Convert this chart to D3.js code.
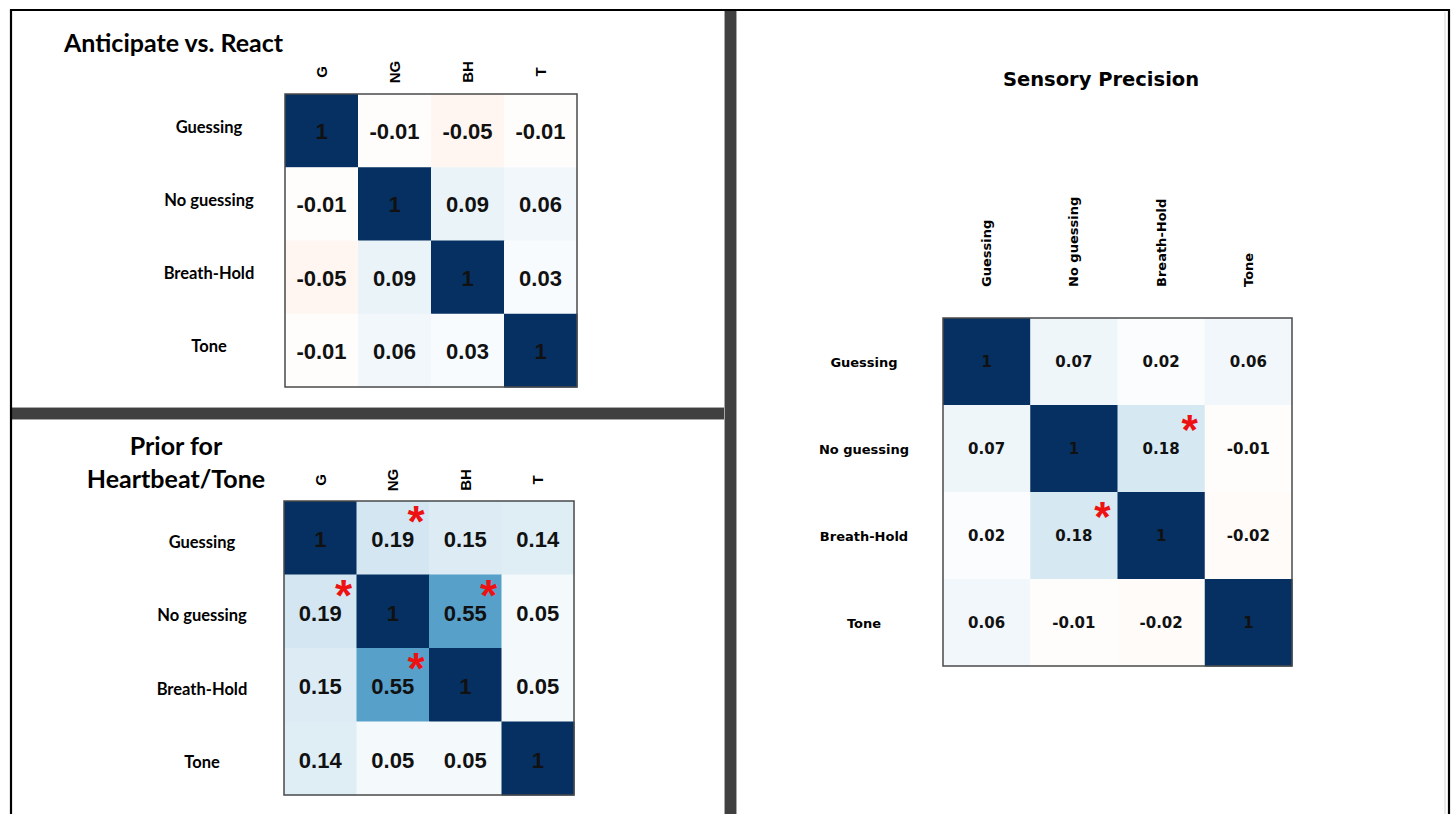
<!DOCTYPE html>
<html>
<head>
<meta charset="utf-8">
<script src="https://cdn.jsdelivr.net/npm/d3@7"></script>
<style>
  html, body { margin: 0; padding: 0; background: #ffffff; }
  svg { display: block; }
</style>
</head>
<body>
<svg id="chart" width="1453" height="814"></svg>
<script>
// Measures compared in every matrix
const measureNames = ["Guessing", "No guessing", "Breath-Hold", "Tone"];
const measureCodes = ["G", "NG", "BH", "T"];

// Correlations: anticipate vs. react
const anticipateValues = [
  [1, -0.01, -0.05, -0.01],
  [-0.01, 1, 0.09, 0.06],
  [-0.05, 0.09, 1, 0.03],
  [-0.01, 0.06, 0.03, 1]
];

// Correlations: prior for heartbeat/tone
const priorValues = [
  [1, 0.19, 0.15, 0.14],
  [0.19, 1, 0.55, 0.05],
  [0.15, 0.55, 1, 0.05],
  [0.14, 0.05, 0.05, 1]
];

// Correlations: sensory precision
const precisionValues = [
  [1, 0.07, 0.02, 0.06],
  [0.07, 1, 0.18, -0.01],
  [0.02, 0.18, 1, -0.02],
  [0.06, -0.01, -0.02, 1]
];

// Significant cells [row, column]
const anticipateSignificant = [];
const priorSignificant = [[0, 1], [1, 0], [1, 2], [2, 1]];
const precisionSignificant = [[1, 2], [2, 1]];

const svg = d3.select("#chart");
const W = 1453, H = 814;

// Red-white-blue diverging palette spread evenly over -1 … 1
const palette = ["#67001F", "#B2182B", "#D6604D", "#F4A582", "#FDDBC7", "#FFFFFF",
                 "#D1E5F0", "#92C5DE", "#4393C3", "#2166AC", "#053061"];
const color = d3.scaleLinear()
  .domain(palette.map((c, i) => -1 + i * 0.2))
  .range(palette)
  .interpolate(d3.interpolateRgb);
const fmt = v => (v === 1 ? "1" : v.toFixed(2));

// ---------- panel frame ----------
const frame = svg.append("g");
frame.append("rect").attr("x", 0).attr("y", 0).attr("width", W).attr("height", H).attr("fill", "#fff");
function bar(x, y, w, h) {
  frame.append("rect").attr("x", x - 1).attr("y", y - 1).attr("width", w + 2).attr("height", h + 2).attr("fill", "#a8a8a8");
  frame.append("rect").attr("x", x).attr("y", y).attr("width", w).attr("height", h).attr("fill", "#404040");
}
bar(12, 408, 713, 11);
bar(725, 10, 11, H - 10);
// outer black border (top, left, right)
frame.append("line").attr("x1", 10).attr("x2", 1450).attr("y1", 10).attr("y2", 10).attr("stroke", "#000").attr("stroke-width", 2.2);
frame.append("line").attr("x1", 11).attr("x2", 11).attr("y1", 9).attr("y2", H).attr("stroke", "#000").attr("stroke-width", 2.2);
frame.append("line").attr("x1", 1449).attr("x2", 1449).attr("y1", 9).attr("y2", H).attr("stroke", "#000").attr("stroke-width", 2.2);
frame.append("line").attr("x1", 1445).attr("x2", 1445).attr("y1", 12).attr("y2", H).attr("stroke", "#d4d4d4").attr("stroke-width", 1);

// ---------- generic correlation matrix ----------
function drawMatrix(opt) {
  const g = svg.append("g");
  const x = d3.scaleBand().domain(d3.range(4)).range([opt.x0, opt.x1]);
  const y = d3.scaleBand().domain(d3.range(4)).range([opt.y0, opt.y1]);

  const cells = [];
  opt.values.forEach((row, i) => row.forEach((v, j) => cells.push({ i, j, v })));

  g.selectAll("rect.cell").data(cells).join("rect")
    .attr("class", "cell")
    .attr("x", d => x(d.j))
    .attr("y", d => y(d.i))
    .attr("width", x.bandwidth() + 0.5)
    .attr("height", y.bandwidth() + 0.5)
    .attr("fill", d => color(d.v));

  g.append("rect")
    .attr("x", opt.x0).attr("y", opt.y0)
    .attr("width", opt.x1 - opt.x0).attr("height", opt.y1 - opt.y0)
    .attr("fill", "none").attr("stroke", "#4a4a4a").attr("stroke-width", 1.5);

  g.selectAll("text.val").data(cells).join("text")
    .attr("class", "val")
    .attr("x", d => x(d.j) + x.bandwidth() / 2)
    .attr("y", d => y(d.i) + y.bandwidth() / 2 + opt.valueShift)
    .attr("text-anchor", "middle")
    .attr("dominant-baseline", "central")
    .attr("font-family", opt.valueFont)
    .attr("font-weight", "bold")
    .attr("font-size", opt.valueSize)
    .attr("fill", "#111")
    .text(d => fmt(d.v));

  // significance markers
  g.selectAll("text.sig").data(opt.significant).join("text")
    .attr("class", "sig")
    .attr("x", d => x(d[1]) + x.bandwidth() - opt.starInset)
    .attr("y", d => y(d[0]) + opt.starDrop)
    .attr("text-anchor", "middle")
    .attr("font-family", "'Liberation Sans', Arial, sans-serif")
    .attr("font-weight", "bold")
    .attr("font-size", opt.starSize)
    .attr("fill", "#ee1111")
    .text("*");

  // row labels
  g.selectAll("text.row").data(opt.rowLabels).join("text")
    .attr("class", "row")
    .attr("x", opt.rowLabelX)
    .attr("y", (d, i) => y(i) + y.bandwidth() / 2 + opt.rowShift)
    .attr("text-anchor", "middle")
    .attr("dominant-baseline", "central")
    .attr("font-family", opt.labelFont)
    .attr("font-weight", "bold")
    .attr("font-size", opt.rowSize)
    .attr("fill", "#000")
    .text(d => d);

  // column labels (rotated)
  g.selectAll("text.col").data(opt.colLabels).join("text")
    .attr("class", "col")
    .attr("transform", (d, j) => `translate(${x(j) + x.bandwidth() / 2},${opt.colLabelY}) rotate(-90)`)
    .attr("text-anchor", opt.colAnchor)
    .attr("dominant-baseline", "central")
    .attr("font-family", opt.colFont)
    .attr("font-weight", "bold")
    .attr("font-size", opt.colSize)
    .attr("fill", "#000")
    .text(d => d);

  // title lines
  opt.title.forEach((line, k) => {
    g.append("text")
      .attr("x", opt.titleX)
      .attr("y", opt.titleY + k * opt.titleLead)
      .attr("text-anchor", opt.titleAnchor)
      .attr("font-family", opt.titleFont)
      .attr("font-weight", "bold")
      .attr("font-size", opt.titleSize)
      .attr("fill", "#000")
      .text(line);
  });
}

const calibriLike = "Lato, 'Open Sans', sans-serif";
const arialLike = "'Liberation Sans', Arial, sans-serif";
const verdanaLike = "'DejaVu Sans', Verdana, sans-serif";

// Anticipate vs. React
drawMatrix({
  values: anticipateValues, significant: anticipateSignificant,
  rowLabels: measureNames, colLabels: measureCodes,
  x0: 285, x1: 577, y0: 94, y1: 387,
  valueFont: arialLike, valueSize: 22, valueShift: 1,
  starInset: 13, starDrop: 36, starSize: 44,
  labelFont: calibriLike, rowSize: 16.5, rowLabelX: 209, rowShift: -4,
  colFont: arialLike, colSize: 15, colLabelY: 72, colAnchor: "middle",
  title: ["Anticipate vs. React"], titleX: 64, titleY: 52, titleLead: 0,
  titleAnchor: "start", titleFont: calibriLike, titleSize: 25
});

// Prior for Heartbeat/Tone
drawMatrix({
  values: priorValues, significant: priorSignificant,
  rowLabels: measureNames, colLabels: measureCodes,
  x0: 284, x1: 574, y0: 501, y1: 795,
  valueFont: arialLike, valueSize: 22, valueShift: 2,
  starInset: 13, starDrop: 36, starSize: 44,
  labelFont: calibriLike, rowSize: 16.5, rowLabelX: 202, rowShift: 4,
  colFont: arialLike, colSize: 15, colLabelY: 480, colAnchor: "middle",
  title: ["Prior for", "Heartbeat/Tone"], titleX: 176, titleY: 455, titleLead: 33,
  titleAnchor: "middle", titleFont: calibriLike, titleSize: 25
});

// Sensory Precision
drawMatrix({
  values: precisionValues, significant: precisionSignificant,
  rowLabels: measureNames, colLabels: measureNames,
  x0: 943, x1: 1292, y0: 318, y1: 666,
  valueFont: verdanaLike, valueSize: 15, valueShift: 0,
  starInset: 15, starDrop: 39, starSize: 42,
  labelFont: verdanaLike, rowSize: 13, rowLabelX: 864, rowShift: 1,
  colFont: verdanaLike, colSize: 13, colLabelY: 287, colAnchor: "start",
  title: ["Sensory Precision"], titleX: 1101, titleY: 86, titleLead: 0,
  titleAnchor: "middle", titleFont: verdanaLike, titleSize: 19.5
});
</script>
</body>
</html>
